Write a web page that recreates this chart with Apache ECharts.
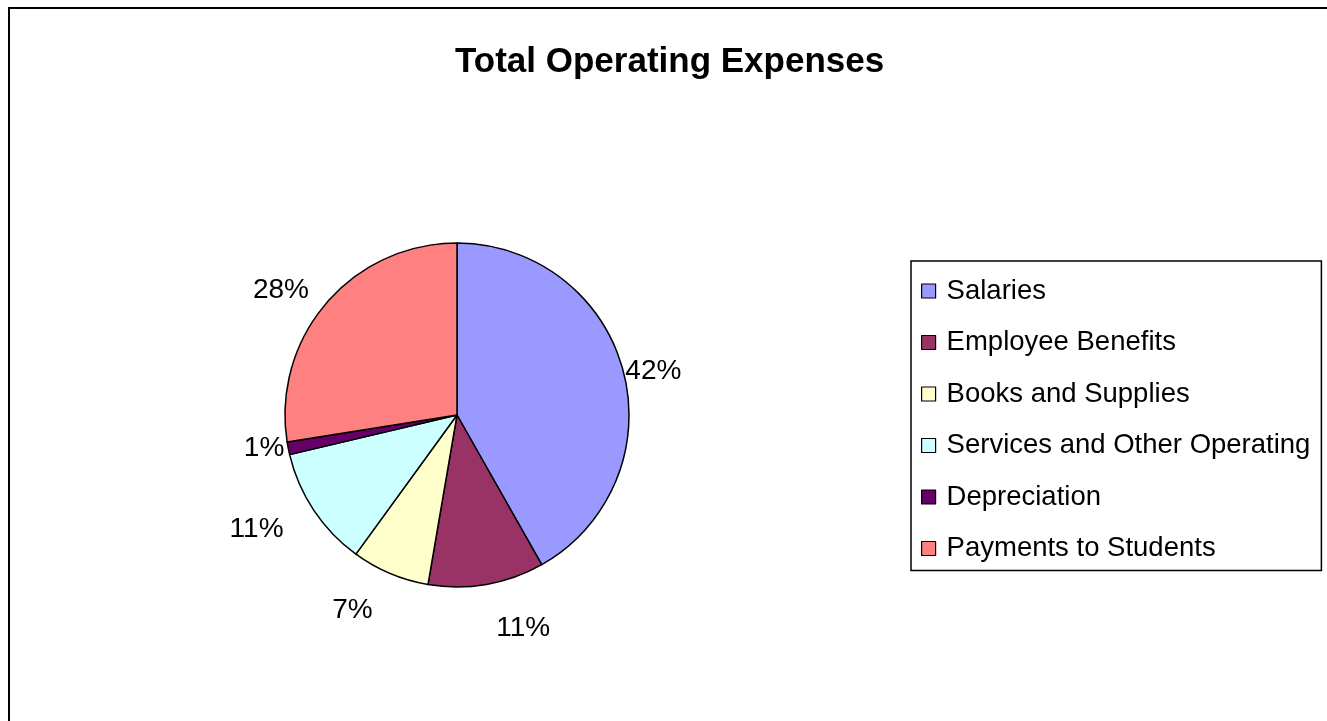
<!DOCTYPE html>
<html>
<head>
<meta charset="utf-8">
<script src="https://cdn.jsdelivr.net/npm/echarts@6/dist/echarts.min.js"></script>
<style>
  html, body { margin: 0; padding: 0; background: #fff; overflow: hidden; }
  #frame { position: absolute; left: 8px; top: 7px; width: 3000px; height: 3000px;
           border-left: 2px solid #000; border-top: 2px solid #000; pointer-events: none; z-index: 2; }
  #chart { position: absolute; left: 0; top: 0; width: 1327px; height: 721px; }
</style>
</head>
<body>
<div id="chart"></div>
<div id="frame"></div>
<script>
const titleText = 'Total Operating Expenses';
const categories = ['Salaries', 'Employee Benefits', 'Books and Supplies', 'Services and Other Operating', 'Depreciation', 'Payments to Students'];
const values = [41.8, 10.9, 7.3, 11.3, 1.2, 27.5];
const colors = ['#9999FF', '#993366', '#FFFFCC', '#CCFFFF', '#660066', '#FF8080'];
const labelPull = [0, 44, 40, 34, 2, 20];

const FONT = "'Liberation Sans', Arial, sans-serif";

const chart = echarts.init(document.getElementById('chart'), null, { renderer: 'canvas' });
chart.setOption({
  animation: false,
  backgroundColor: '#ffffff',
  title: {
    text: titleText,
    left: 455,
    top: 45,
    padding: 0,
    textStyle: { fontFamily: FONT, fontSize: 35, fontWeight: 'bold', color: '#000' }
  },
  legend: {
    orient: 'vertical',
    left: 911,
    top: 261,
    padding: [15, 11, 7, 10],
    borderColor: '#000',
    borderWidth: 1.5,
    itemWidth: 14,
    itemHeight: 14,
    itemGap: 21.5,
    icon: 'rect',
    itemStyle: { borderColor: '#000', borderWidth: 1.2 },
    textStyle: { fontFamily: FONT, fontSize: 27.5, color: '#000', lineHeight: 30, padding: [0, 0, 0, 6] },
    data: categories
  },
  series: [{
    type: 'pie',
    center: [457, 415],
    radius: 172,
    startAngle: 90,
    clockwise: true,
    avoidLabelOverlap: false,
    percentPrecision: 0,
    itemStyle: { borderColor: '#000', borderWidth: 1.5 },
    label: {
      show: true,
      position: 'outside',
      formatter: '{d}%',
      fontFamily: FONT,
      fontSize: 28,
      color: '#000',
      distanceToLabelLine: 2
    },
    labelLine: { show: false, length: 0, length2: 0 },
    emphasis: { disabled: true },
    data: categories.map((c, i) => ({
      name: c,
      value: values[i],
      itemStyle: { color: colors[i] },
      labelLine: { show: false, length: labelPull[i], length2: 0 }
    }))
  }]
});
</script>
</body>
</html>
